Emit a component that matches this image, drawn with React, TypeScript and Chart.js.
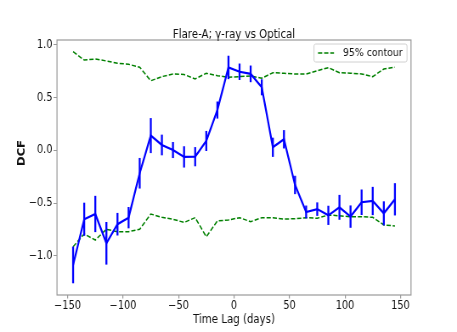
import React, { useEffect, useRef } from 'react';
import { Chart, registerables } from 'chart.js';

Chart.register(...registerables);

const lags = [-145, -135, -125, -115, -105, -95, -85, -75, -65, -55, -45, -35, -25, -15, -5, 5, 15, 25, 35, 45, 55, 65, 75, 85, 95, 105, 115, 125, 135, 145];
const dcf = [-1.085, -0.652, -0.602, -0.88, -0.699, -0.637, -0.216, 0.141, 0.052, 0.004, -0.061, -0.059, 0.09, 0.383, 0.787, 0.746, 0.726, 0.599, 0.03, 0.106, -0.327, -0.583, -0.556, -0.615, -0.539, -0.627, -0.491, -0.479, -0.596, -0.463];
const dcfErr = [0.174, 0.157, 0.172, 0.202, 0.107, 0.101, 0.145, 0.166, 0.098, 0.076, 0.101, 0.091, 0.095, 0.081, 0.111, 0.078, 0.079, 0.076, 0.091, 0.087, 0.087, 0.061, 0.064, 0.091, 0.118, 0.106, 0.121, 0.134, 0.114, 0.153];
const upper95 = [0.936, 0.857, 0.867, 0.848, 0.826, 0.817, 0.789, 0.661, 0.7, 0.725, 0.72, 0.678, 0.732, 0.709, 0.694, 0.7, 0.706, 0.685, 0.737, 0.732, 0.725, 0.725, 0.756, 0.785, 0.737, 0.732, 0.725, 0.7, 0.772, 0.789];
const lower95 = [-0.912, -0.791, -0.849, -0.747, -0.77, -0.77, -0.747, -0.602, -0.634, -0.652, -0.682, -0.637, -0.818, -0.668, -0.659, -0.637, -0.675, -0.637, -0.637, -0.65, -0.647, -0.637, -0.643, -0.612, -0.619, -0.628, -0.628, -0.634, -0.706, -0.716];
const xTicks = [-150, -100, -50, 0, 50, 100, 150];
const yTicks = [-1.0, -0.5, 0.0, 0.5, 1.0];

const titleText = 'Flare-A; γ-ray vs Optical';
const xLabel = 'Time Lag (days)';
const yLabel = 'DCF';
const legendLabel = '95% contour';

// The picture is drawn on a wider canvas and squeezed horizontally, like the reference.
const OUT_W = 457;
const OUT_H = 332;
const SQ = 0.85;
const CW = Math.round(OUT_W / SQ);
const sx = OUT_W / CW;
const X = (v: number) => v / sx;

const FONT = '"DejaVu Sans", sans-serif';
const BLUE = '#0000ff';
const GREEN = '#008000';
const SPINE = '#9a9a9a';
const TXT = '#111111';
const DASH = [5, 2.2];

const fmtX = (v: number) => (v < 0 ? '\u2212' + Math.abs(v) : String(v));
const fmtY = (v: number) => (v < 0 ? '\u2212' + Math.abs(v).toFixed(1) : v.toFixed(1));

const decor = {
  id: 'decor',
  afterDatasetsDraw(chart: any) {
    const { ctx, chartArea: a, scales } = chart;
    const x = scales.x;
    const y = scales.y;
    ctx.save();
    // error bars
    ctx.strokeStyle = BLUE;
    ctx.lineWidth = 2.3;
    lags.forEach((l, i) => {
      const px = x.getPixelForValue(l);
      ctx.beginPath();
      ctx.moveTo(px, y.getPixelForValue(dcf[i] - dcfErr[i]));
      ctx.lineTo(px, y.getPixelForValue(dcf[i] + dcfErr[i]));
      ctx.stroke();
    });
    // frame
    ctx.strokeStyle = SPINE;
    ctx.lineWidth = 1.2;
    ctx.strokeRect(a.left, a.top, a.right - a.left, a.bottom - a.top);
    // legend
    const lx = X(314), ly = 44, lw = X(93), lh = 18;
    ctx.beginPath();
    ctx.roundRect(lx, ly, lw, lh, 2);
    ctx.fillStyle = 'rgba(255,255,255,0.85)';
    ctx.fill();
    ctx.strokeStyle = '#d0d0d0';
    ctx.lineWidth = 1;
    ctx.stroke();
    ctx.beginPath();
    ctx.setLineDash(DASH);
    ctx.strokeStyle = GREEN;
    ctx.lineWidth = 1.5;
    ctx.moveTo(X(318), ly + lh / 2);
    ctx.lineTo(X(334), ly + lh / 2);
    ctx.stroke();
    ctx.setLineDash([]);
    ctx.fillStyle = TXT;
    ctx.font = '11px ' + FONT;
    ctx.textAlign = 'left';
    ctx.textBaseline = 'middle';
    ctx.fillText(legendLabel, X(343), ly + lh / 2 + 0.5);
    // title
    ctx.font = '12px ' + FONT;
    ctx.textAlign = 'center';
    ctx.textBaseline = 'alphabetic';
    ctx.fillText(titleText, (a.left + a.right) / 2, 38);
    // y label
    ctx.save();
    ctx.translate(X(22), 153);
    ctx.rotate(-Math.PI / 2);
    ctx.font = 'bold 11.5px ' + FONT;
    ctx.textAlign = 'center';
    ctx.textBaseline = 'middle';
    ctx.fillText(yLabel, 0, 0);
    ctx.restore();
    ctx.restore();
  },
};

export default function App() {
  const ref = useRef<HTMLCanvasElement | null>(null);
  useEffect(() => {
    document.body.style.margin = '0';
    const canvas = ref.current;
    if (!canvas) return;
    const chart = new Chart(canvas, {
      type: 'line',
      data: {
        datasets: [
          {
            label: 'DCF',
            data: lags.map((l, i) => ({ x: l, y: dcf[i] })),
            borderColor: BLUE,
            borderWidth: 2.2,
            pointRadius: 0,
            fill: false,
            tension: 0,
          },
          {
            label: legendLabel,
            data: lags.map((l, i) => ({ x: l, y: upper95[i] })),
            borderColor: GREEN,
            borderWidth: 1.5,
            borderDash: DASH,
            pointRadius: 0,
            fill: false,
            tension: 0,
          },
          {
            label: 'lower',
            data: lags.map((l, i) => ({ x: l, y: lower95[i] })),
            borderColor: GREEN,
            borderWidth: 1.5,
            borderDash: DASH,
            pointRadius: 0,
            fill: false,
            tension: 0,
          },
        ],
      },
      options: {
        responsive: false,
        animation: false,
        devicePixelRatio: 1,
        layout: { padding: { top: 40, right: X(46), left: 0, bottom: 0 } },
        plugins: { legend: { display: false }, title: { display: false }, tooltip: { enabled: false } },
        scales: {
          x: {
            type: 'linear',
            min: -159.5,
            max: 159.5,
            afterBuildTicks: (s: any) => {
              s.ticks = xTicks.map((v) => ({ value: v }));
            },
            afterFit: (s: any) => {
              s.height = 37;
            },
            ticks: {
              callback: (v: any) => fmtX(Number(v)),
              font: { family: FONT, size: 11.5 },
              color: TXT,
              padding: 1,
              maxRotation: 0,
              autoSkip: false,
            },
            grid: { drawOnChartArea: false, drawTicks: true, tickLength: 3.5, color: SPINE, lineWidth: 1.2 },
            border: { display: false },
            title: {
              display: true,
              text: xLabel,
              font: { family: FONT, size: 12 },
              color: TXT,
              padding: { top: 0, bottom: 5 },
            },
          },
          y: {
            type: 'linear',
            min: -1.37,
            max: 1.047,
            afterBuildTicks: (s: any) => {
              s.ticks = yTicks.map((v) => ({ value: v }));
            },
            afterFit: (s: any) => {
              s.width = X(57);
            },
            ticks: {
              callback: (v: any) => fmtY(Number(v)),
              font: { family: FONT, size: 11.5 },
              color: TXT,
              padding: X(1),
              autoSkip: false,
            },
            grid: { drawOnChartArea: false, drawTicks: true, tickLength: X(3.5), color: SPINE },
            border: { display: false },
          },
        },
      },
      plugins: [decor],
    } as any);
    return () => chart.destroy();
  }, []);
  return (
    <div style={{ position: 'absolute', left: 0, top: 0, width: OUT_W, height: OUT_H, overflow: 'hidden', background: '#fff' }}>
      <canvas
        ref={ref}
        width={CW}
        height={OUT_H}
        style={{ display: 'block', width: CW, height: OUT_H, transform: `scaleX(${sx})`, transformOrigin: '0 0' }}
      />
    </div>
  );
}
